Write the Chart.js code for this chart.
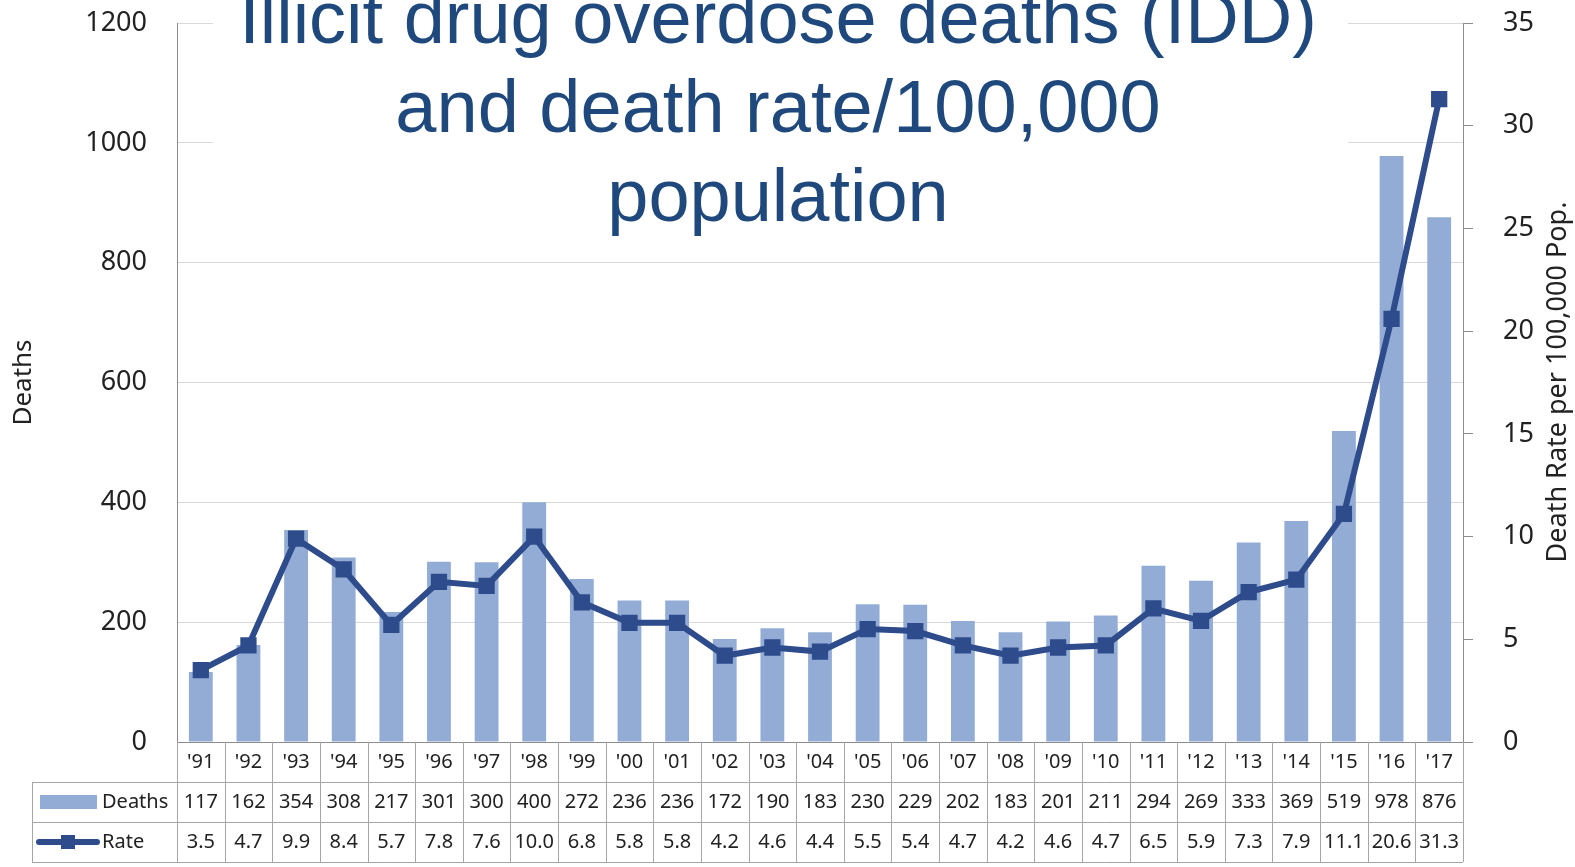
<!DOCTYPE html>
<html>
<head>
<meta charset="utf-8">
<script src="https://cdn.jsdelivr.net/npm/chart.js@4"></script>
<style>
  html, body { margin: 0; padding: 0; background: #fff; }
  #wrap { width: 1575px; height: 867px; }
</style>
</head>
<body>
<div id="wrap"><canvas id="iddChart"></canvas></div>
<script>
const years = ["'91", "'92", "'93", "'94", "'95", "'96", "'97", "'98", "'99", "'00", "'01", "'02", "'03", "'04",
  "'05", "'06", "'07", "'08", "'09", "'10", "'11", "'12", "'13", "'14", "'15", "'16", "'17"];
const deaths = [117, 162, 354, 308, 217, 301, 300, 400, 272, 236, 236, 172, 190, 183, 230, 229, 202, 183, 201, 211,
  294, 269, 333, 369, 519, 978, 876];
const rates = [3.5, 4.7, 9.9, 8.4, 5.7, 7.8, 7.6, 10.0, 6.8, 5.8, 5.8, 4.2, 4.6, 4.4, 5.5, 5.4, 4.7, 4.2, 4.6, 4.7,
  6.5, 5.9, 7.3, 7.9, 11.1, 20.6, 31.3];
const titleLines = ['Illicit drug overdose deaths (IDD)', 'and death rate/100,000', 'population'];

const barColor = '#93acd5';
const lineColor = '#2e4b8b';
const tickFont = { family: 'Noto Sans', size: 27 };

// title block with a white backing, sits over the top gridlines
const titleBlock = {
  id: 'titleBlock',
  beforeDatasetsDraw(chart) {
    const ctx = chart.ctx;
    ctx.save();
    ctx.fillStyle = '#fff';
    ctx.fillRect(213, 0, 1135, 240);
    ctx.fillStyle = '#1f497d';
    ctx.font = '74px "Liberation Sans", Arial, sans-serif';
    ctx.textAlign = 'center';
    ctx.textBaseline = 'alphabetic';
    titleLines.forEach((t, i) => ctx.fillText(t, 778, 43 + i * 89));
    ctx.restore();
  }
};

// data table under the x axis + right axis title
const dataTable = {
  id: 'dataTable',
  afterDraw(chart) {
    const ctx = chart.ctx;
    const x = chart.scales.x;
    const top = chart.chartArea.bottom;
    const rowH = 40;
    const half = (x.getPixelForValue(1) - x.getPixelForValue(0)) / 2;
    const left = x.getPixelForValue(0) - half;
    const right = x.getPixelForValue(years.length - 1) + half;
    const legendLeft = 32;

    ctx.save();
    ctx.strokeStyle = '#a6a6a6';
    ctx.lineWidth = 1;
    ctx.beginPath();
    for (let i = 0; i <= years.length; i++) {
      const px = Math.round(left + i * half * 2) + 0.5;
      ctx.moveTo(px, top);
      ctx.lineTo(px, top + rowH * 3);
    }
    for (let r = 1; r <= 3; r++) {
      const py = Math.round(top + r * rowH) + 0.5;
      ctx.moveTo(legendLeft, py);
      ctx.lineTo(right, py);
    }
    ctx.moveTo(legendLeft + 0.5, top + rowH);
    ctx.lineTo(legendLeft + 0.5, top + rowH * 3);
    ctx.stroke();

    ctx.fillStyle = '#222';
    ctx.font = '20px "Noto Sans", sans-serif';
    ctx.textAlign = 'center';
    ctx.textBaseline = 'middle';
    years.forEach((y, i) => {
      const cx = x.getPixelForValue(i);
      ctx.fillText(y, cx, top + rowH * 0.5);
      ctx.fillText(String(deaths[i]), cx, top + rowH * 1.5);
      ctx.fillText(rates[i].toFixed(1), cx, top + rowH * 2.5);
    });

    // legend cells
    const y1 = top + rowH * 1.5;
    const y2 = top + rowH * 2.5;
    ctx.fillStyle = barColor;
    ctx.fillRect(40, y1 - 7, 57, 14);
    ctx.strokeStyle = lineColor;
    ctx.lineWidth = 6;
    ctx.lineCap = 'round';
    ctx.beginPath();
    ctx.moveTo(39, y2);
    ctx.lineTo(97, y2);
    ctx.stroke();
    ctx.fillStyle = lineColor;
    ctx.fillRect(61, y2 - 7, 14, 14);
    ctx.fillStyle = '#222';
    ctx.textAlign = 'left';
    ctx.fillText('Deaths', 102, y1);
    ctx.fillText('Rate', 102, y2);

    // right axis title, reads bottom to top
    ctx.translate(1558, 382);
    ctx.rotate(-Math.PI / 2);
    ctx.textAlign = 'center';
    ctx.font = '27px "Noto Sans", sans-serif';
    ctx.fillText('Death Rate per 100,000 Pop.', 0, 0);
    ctx.restore();
  }
};

const fixAxis = width => s => {
  s.width = width;
  s.paddingTop = 0;
  s.paddingBottom = 0;
};

new Chart(document.getElementById('iddChart'), {
  data: {
    labels: years,
    datasets: [
      {
        type: 'line',
        label: 'Rate',
        data: rates,
        yAxisID: 'y1',
        borderColor: lineColor,
        backgroundColor: lineColor,
        borderWidth: 6,
        pointStyle: 'rect',
        pointRadius: 11.5,
        pointBorderWidth: 0,
        tension: 0,
        order: 0
      },
      {
        type: 'bar',
        label: 'Deaths',
        data: deaths,
        yAxisID: 'y',
        backgroundColor: barColor,
        barPercentage: 0.5,
        categoryPercentage: 1,
        order: 1
      }
    ]
  },
  options: {
    responsive: true,
    maintainAspectRatio: false,
    animation: false,
    layout: { padding: { top: 23, left: 0, right: 0, bottom: 0 } },
    plugins: { legend: { display: false }, tooltip: { enabled: false } },
    scales: {
      x: {
        grid: { display: false },
        ticks: { display: false },
        border: { display: true, color: '#8c8c8c', width: 1 },
        afterFit: s => { s.height = 125; s.paddingLeft = 0; s.paddingRight = 0; }
      },
      y: {
        position: 'left',
        min: 0,
        max: 1200,
        ticks: { stepSize: 200, padding: 30, color: '#222', font: tickFont, callback: v => String(v) },
        grid: { color: '#d9d9d9', drawTicks: false },
        border: { color: '#8c8c8c' },
        title: { display: true, text: 'Deaths', color: '#222', font: { family: 'Noto Sans', size: 26 }, padding: { top: 8, bottom: 0 } },
        afterFit: fixAxis(177)
      },
      y1: {
        position: 'right',
        min: 0,
        max: 35,
        ticks: { stepSize: 5, padding: 30, color: '#222', font: tickFont, callback: v => String(v) },
        grid: { drawOnChartArea: false, tickLength: 10, color: '#8c8c8c' },
        border: { color: '#8c8c8c' },
        afterFit: fixAxis(112)
      }
    }
  },
  plugins: [titleBlock, dataTable]
});
</script>
</body>
</html>
